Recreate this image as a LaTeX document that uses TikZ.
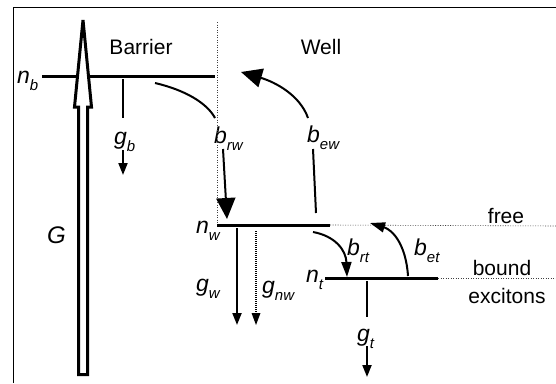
\documentclass[tikz,border=0pt]{standalone}
\usepackage{fontspec}
\setmainfont{Liberation Sans}
\usetikzlibrary{arrows.meta}
\newcommand{\symb}[2]{{\fontsize{23}{23}\selectfont\itshape #1\raisebox{-7pt}{\fontsize{15}{15}\selectfont #2}}}
\begin{document}
\begin{tikzpicture}[x=1pt,y=-1pt,
  level/.style={line width=3pt},
  guide/.style={line width=0.6pt, dash pattern=on 1pt off 1.5pt, black!75},
  conn/.style={line width=2pt},
  smalltip/.style={-{Triangle[length=12pt,width=9pt]}},
  midtip/.style={-{Triangle[length=15pt,width=10pt]}},
  bigtip/.style={-{Triangle[length=21pt,width=19pt]}},
  lab/.style={inner sep=0pt, anchor=base west},
  txt/.style={inner sep=0pt, anchor=base, font=\fontsize{21}{21}\selectfont}]
\useasboundingbox (0,0) rectangle (556,383);
% frame
\draw[line width=1.8pt] (13.5,383) -- (13.5,7.5) -- (556,7.5);

% level coordinates
\coordinate (nbL) at (42,76);
\coordinate (nbR) at (215,76);
\coordinate (nwL) at (217,225);
\coordinate (nwR) at (330,225);
\coordinate (ntL) at (325,278);
\coordinate (ntR) at (438,278);
\coordinate (freeE) at (556,226);
\coordinate (boundE) at (556,278);
\coordinate (divT) at (217,22);

% labels
\node[lab] (nb) at (17,83) {\symb{n}{b}};
\node[lab] (gb) at (114,144) {\symb{g}{b}};
\node[lab] (brw) at (214,143) {\symb{b}{rw}};
\node[lab] (bew) at (307,142) {\symb{b}{ew}};
\node[lab] (nw) at (196,233) {\symb{n}{w}};
\node[lab] (gw) at (196,291) {\symb{g}{w}};
\node[lab] (gnw) at (262,293) {\symb{g}{nw}};
\node[lab] (nt) at (306,282) {\symb{n}{t}};
\node[lab] (brt) at (347,255) {\symb{b}{rt}};
\node[lab] (bet) at (414,255) {\symb{b}{et}};
\node[lab] (gt) at (357,341) {\symb{g}{t}};
\node[lab] (G) at (47,243) {\fontsize{24}{24}\selectfont\itshape G};

\node[txt] (barrier) at (141,54) {Barrier};
\node[txt] (well) at (321,54) {Well};
\node[txt] (free) at (506,223) {free};
\node[txt] (bound) at (502,275) {bound};
\node[txt] (exc) at (507,303) {excitons};

% guides
\draw[guide] (divT) -- (nwL);
\draw[guide] (nwR) -- (freeE);
\draw[guide] (ntR) -- (boundE);

% levels
\draw[level] (nbL) -- (nbR);
\draw[level] (nwL) -- (nwR);
\draw[level] (ntL) -- (ntR);

% g_b
\coordinate (gb1) at (123,79);
\coordinate (gb2) at (123,118);
\coordinate (gb3) at (123,150);
\coordinate (gb4) at (123,175);
\draw[conn] (gb1) -- (gb2);
\draw[conn,smalltip] (gb3) -- (gb4);

% b_rw
\coordinate (rw1) at (155,83);
\coordinate (rw2) at (215,118);
\coordinate (rw3) at (223,149);
\coordinate (rw4) at (227,219);
\draw[conn] (rw1) .. controls (185,90) and (207,103) .. (rw2);
\draw[conn,bigtip] (rw3) -- (rw4);

% b_ew
\coordinate (ew1) at (316,213);
\coordinate (ew2) at (313,149);
\coordinate (ew3) at (308,118);
\coordinate (ew4) at (241,72);
\draw[conn] (ew1) -- (ew2);
\draw[conn,bigtip] (ew3) .. controls (300,95) and (275,82) .. (ew4);

% g_w, g_nw
\coordinate (gw1) at (237,228);
\coordinate (gw2) at (237,325);
\coordinate (gnw1) at (256,231);
\coordinate (gnw2) at (256,325);
\draw[conn,smalltip] (gw1) -- (gw2);
\draw[line width=1.4pt,dash pattern=on 1pt off 1pt,-{Triangle[length=12pt,width=9pt,line width=0pt]}] (gnw1) -- (gnw2);

% b_rt
\coordinate (rt1) at (313,232);
\coordinate (rt2) at (347,277);
\draw[conn,midtip] (rt1) .. controls (335,236) and (346,250) .. (rt2);

% b_et
\coordinate (et1) at (408,276);
\coordinate (et2) at (370,223);
\draw[conn,midtip] (et1) .. controls (406,245) and (393,230) .. (et2);

% g_t
\coordinate (gt1) at (367,281);
\coordinate (gt2) at (367,317);
\coordinate (gt3) at (367,346);
\coordinate (gt4) at (367,377);
\draw[conn] (gt1) -- (gt2);
\draw[conn,smalltip] (gt3) -- (gt4);

% G hollow arrow
\draw[line width=3pt, fill=white, line join=miter]
  (83,20) -- (91.5,107) -- (87.5,107) -- (87.5,374.5) -- (78.5,374.5)
  -- (78.5,107) -- (74.5,107) -- cycle;
\end{tikzpicture}
\end{document}
